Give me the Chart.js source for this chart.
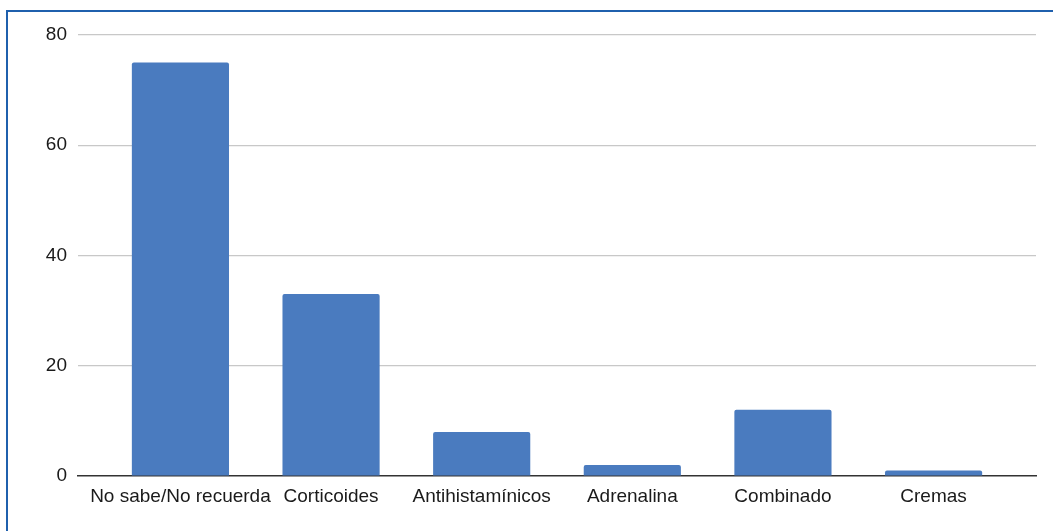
<!DOCTYPE html>
<html>
<head>
<meta charset="utf-8">
<script src="https://cdn.jsdelivr.net/npm/chart.js@4"></script>
<style>
  html, body { margin: 0; padding: 0; background: #fff; }
  #wrap { position: relative; width: 1053px; height: 531px; overflow: hidden; }
  #frame { position: absolute; left: 6px; top: 10px; width: 1060px; height: 540px;
           border-top: 2px solid #1f60ad; border-left: 2px solid #1f60ad; box-sizing: border-box; }
  canvas { position: absolute; left: 0; top: 0; }
</style>
</head>
<body>
<div id="wrap">
  <div id="frame"></div>
  <canvas id="c" width="1053" height="531"></canvas>
</div>
<script>
const categories = ["No sabe/No recuerda", "Corticoides", "Antihistamínicos", "Adrenalina", "Combinado", "Cremas"];
const values = [75, 33, 8, 2, 12, 1];
const yTicks = [0, 20, 40, 60, 80];

const points = categories.map((c, i) => ({ x: i, y: values[i] }));

new Chart(document.getElementById('c'), {
  type: 'bar',
  data: {
    datasets: [{
      data: points,
      backgroundColor: '#4a7bbf',
      borderRadius: 2,
      borderSkipped: 'bottom',
      barPercentage: 0.645,
      categoryPercentage: 1
    }]
  },
  options: {
    responsive: false,
    animation: false,
    layout: { padding: { left: 0, right: 17, top: 35, bottom: 0 } },
    plugins: { legend: { display: false }, tooltip: { enabled: false } },
    scales: {
      x: {
        type: 'linear',
        offset: false,
        min: -0.68,
        max: 5.68,
        grid: { display: false, drawTicks: false },
        border: { display: true, color: '#333333', width: 1.5 },
        afterFit: (s) => { s.height = 531 - 476; },
        ticks: {
          stepSize: 1,
          includeBounds: false,
          autoSkip: false,
          maxRotation: 0,
          padding: 9,
          color: '#1a1a1a',
          font: { family: 'Liberation Sans, Arial, sans-serif', size: 19 },
          callback: (v) => Number.isInteger(v) && categories[v] !== undefined ? categories[v] : ''
        }
      },
      y: {
        min: 0,
        max: 80,
        afterBuildTicks: (s) => { s.ticks = yTicks.map(v => ({ value: v })); },
        afterFit: (s) => { s.width = 78; },
        border: { display: false },
        grid: {
          drawTicks: false,
          color: (ctx) => ctx.tick && ctx.tick.value === 0 ? 'rgba(0,0,0,0)' : '#c8c8c8',
          lineWidth: 1.2
        },
        ticks: {
          padding: 11,
          color: '#1a1a1a',
          font: { family: 'Liberation Sans, Arial, sans-serif', size: 19 }
        }
      }
    }
  }
});
</script>
</body>
</html>
